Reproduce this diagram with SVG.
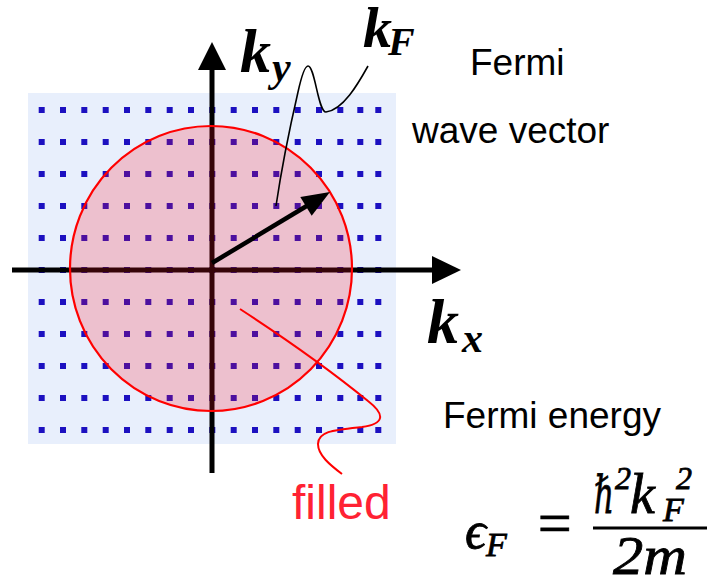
<svg xmlns="http://www.w3.org/2000/svg" xmlns:xlink="http://www.w3.org/1999/xlink" width="707" height="577" viewBox="0 0 707 577">
<style>
.lbl{font-family:"Liberation Sans",Arial,sans-serif;fill:#000}
.red{font-family:"Liberation Sans",Arial,sans-serif;fill:#ff2233}
.m{font-family:"Liberation Serif","DejaVu Serif",serif;font-style:italic;fill:#000;stroke:#000;stroke-width:0.8}
.mb{font-family:"Liberation Serif","DejaVu Serif",serif;font-style:italic;font-weight:bold;fill:#000}
.dot{fill:#1c10c0}
</style>
<defs>
<g id="row">
<rect class="dot" x="38.7" y="-3" width="6" height="6"/>
<rect class="dot" x="60" y="-3" width="6" height="6"/>
<rect class="dot" x="81.3" y="-3" width="6" height="6"/>
<rect class="dot" x="102.7" y="-3" width="6" height="6"/>
<rect class="dot" x="124" y="-3" width="6" height="6"/>
<rect class="dot" x="145.3" y="-3" width="6" height="6"/>
<rect class="dot" x="166.7" y="-3" width="6" height="6"/>
<rect class="dot" x="188" y="-3" width="6" height="6"/>
<rect class="dot" x="209.3" y="-3" width="6" height="6"/>
<rect class="dot" x="230.7" y="-3" width="6" height="6"/>
<rect class="dot" x="252" y="-3" width="6" height="6"/>
<rect class="dot" x="273.3" y="-3" width="6" height="6"/>
<rect class="dot" x="294.7" y="-3" width="6" height="6"/>
<rect class="dot" x="316" y="-3" width="6" height="6"/>
<rect class="dot" x="337.3" y="-3" width="6" height="6"/>
<rect class="dot" x="357.3" y="-3" width="6" height="6"/>
<rect class="dot" x="375.3" y="-3" width="6" height="6"/>
</g>
</defs>
<g id="lattice">
<rect x="28" y="93" width="368" height="351" fill="#e8effc"/>
<use xlink:href="#row" y="110"/>
<use xlink:href="#row" y="142"/>
<use xlink:href="#row" y="174"/>
<use xlink:href="#row" y="206"/>
<use xlink:href="#row" y="238"/>
<use xlink:href="#row" y="270"/>
<use xlink:href="#row" y="302"/>
<use xlink:href="#row" y="334"/>
<use xlink:href="#row" y="366"/>
<use xlink:href="#row" y="398"/>
<use xlink:href="#row" y="430"/>
</g>
<g id="axes">
<line x1="212" y1="473" x2="212" y2="68" stroke="#000" stroke-width="5"/>
<polygon points="212,42 198,70 226,70" fill="#000"/>
<line x1="12" y1="270" x2="434" y2="270" stroke="#000" stroke-width="5"/>
<polygon points="461,270 432,256 432,284" fill="#000"/>
</g>
<g id="fermi-sphere">
<ellipse cx="211" cy="268.5" rx="141" ry="142.5" fill="#ff1428" fill-opacity="0.21" stroke="#ff0000" stroke-width="2.2"/>
</g>
<g id="connectors">
<line x1="212" y1="263" x2="310" y2="204" stroke="#000" stroke-width="4.5"/>
<polygon points="330,192 311.7,215.8 300.3,197" fill="#000"/>
<path d="M276,206 C281,172 292,118 298,92 C302,74 305,66 308,66 C315,66 318,112 326,112 C343,110 358,84 368,66" fill="none" stroke="#000" stroke-width="1.6"/>
<path d="M240,309 C280,335 330,370 368,401 C386,415 384,424 362,427 C334,430 318,431 318,444 C318,455 330,465 342,474" fill="none" stroke="#ff0000" stroke-width="2"/>
</g>
<g id="labels">
<text class="lbl" x="470" y="75" font-size="37">Fermi</text>
<text class="lbl" x="412" y="143" font-size="37">wave vector</text>
<text class="lbl" x="443" y="428" font-size="37">Fermi energy</text>
<text class="red" x="292" y="519" font-size="48">filled</text>
<text class="mb" x="240" y="72" font-size="62">k</text>
<text class="mb" x="272" y="81" font-size="42">y</text>
<text class="mb" x="363" y="47" font-size="58">k</text>
<text class="mb" x="388" y="55" font-size="40">F</text>
<text class="mb" x="427" y="343" font-size="64">k</text>
<text class="mb" x="462" y="352" font-size="42">x</text>
</g>
<g id="formula">
<text class="m" x="465" y="548" font-size="52">ϵ</text>
<text class="m" x="486" y="556" font-size="34">F</text>
<text class="m" x="534" y="543" font-size="60" font-style="normal">=</text>
<line x1="593" y1="528" x2="707" y2="528" stroke="#000" stroke-width="3"/>
<text class="m" x="594" y="513" font-size="52" textLength="20" lengthAdjust="spacingAndGlyphs">ℏ</text>
<text class="m" x="615" y="489" font-size="32" font-style="normal">2</text>
<text class="m" x="630" y="513" font-size="56">k</text>
<text class="m" x="663" y="521" font-size="34">F</text>
<text class="m" x="676" y="489" font-size="32" font-style="normal">2</text>
<text class="m" x="613" y="574" font-size="54" font-style="normal" textLength="74" lengthAdjust="spacingAndGlyphs">2<tspan font-style="italic">m</tspan></text>
</g>
</svg>
